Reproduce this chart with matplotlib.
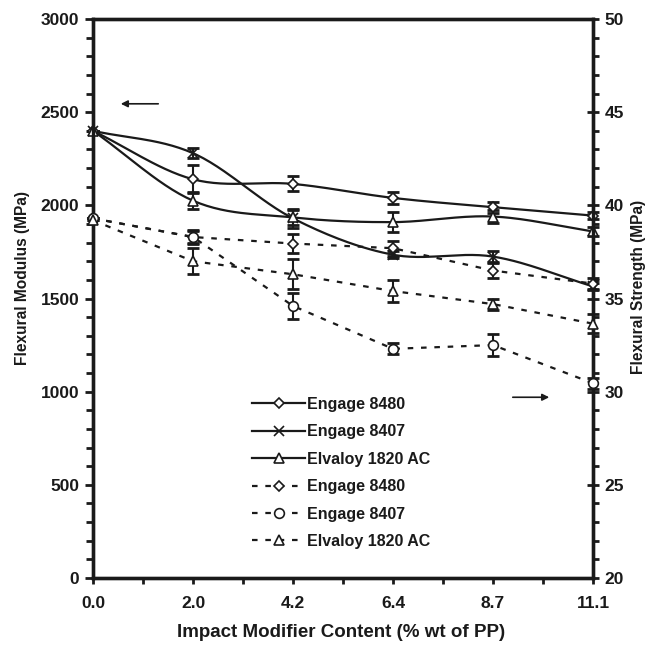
import numpy as np
import matplotlib
matplotlib.use("Agg")
from matplotlib import pyplot as plt
from matplotlib.ticker import MultipleLocator, FixedLocator

plt.rcParams['font.family'] = ['Liberation Sans', 'DejaVu Sans']
plt.rcParams['font.weight'] = 'bold'

# impact modifier content, % wt of PP (evenly spaced categories)
x_labels = ["0.0", "2.0", "4.2", "6.4", "8.7", "11.1"]

# flexural modulus, MPa (left axis, solid lines)
mod_8480 = [2400, 2140, 2115, 2040, 1990, 1945]
mod_8480_err = [0, 75, 40, 33, 30, 20]
mod_8407 = [2400, 2280, 1930, 1735, 1725, 1565]
mod_8407_err = [0, 27, 50, 20, 30, 20]
mod_1820 = [2400, 2025, 1935, 1910, 1940, 1860]
mod_1820_err = [0, 45, 40, 55, 35, 25]

# flexural strength, MPa (right axis, dashed lines)
str_8480 = [39.3, 38.3, 37.95, 37.7, 36.5, 35.8]
str_8480_err = [0, 0.4, 0.5, 0.4, 0.4, 0.3]
str_8407 = [39.3, 38.3, 34.6, 32.3, 32.5, 30.45]
str_8407_err = [0, 0.3, 0.7, 0.3, 0.6, 0.3]
str_1820 = [39.2, 37.0, 36.3, 35.4, 34.7, 33.65]
str_1820_err = [0, 0.7, 0.8, 0.6, 0.3, 0.5]

names = ["Engage 8480", "Engage 8407", "Elvaloy 1820 AC"]
markers = ["D", "x", "^"]
str_markers = ["D", "o", "^"]


def smooth(xs, ys, n=30):
    # Catmull-Rom spline through the points, like a spreadsheet "smoothed line"
    xs = np.asarray(xs, float)
    ys = np.asarray(ys, float)
    px = np.concatenate([[2 * xs[0] - xs[1]], xs, [2 * xs[-1] - xs[-2]]])
    py = np.concatenate([[2 * ys[0] - ys[1]], ys, [2 * ys[-1] - ys[-2]]])
    outx, outy = [], []
    for i in range(1, len(px) - 2):
        t = np.linspace(0, 1, n)
        for p, out in ((px, outx), (py, outy)):
            p0, p1, p2, p3 = p[i - 1], p[i], p[i + 1], p[i + 2]
            out.extend(0.5 * ((2 * p1) + (-p0 + p2) * t
                              + (2 * p0 - 5 * p1 + 4 * p2 - p3) * t ** 2
                              + (-p0 + 3 * p1 - 3 * p2 + p3) * t ** 3))
    return np.array(outx), np.array(outy)


fig = plt.figure(figsize=(6.51, 6.45), dpi=100)
ax = fig.add_axes([0.1429, 0.1039, 0.768, 0.8666])
ax2 = ax.twinx()
x = np.arange(len(x_labels))
ink = "#1a1a1a"

mods = [(mod_8480, mod_8480_err), (mod_8407, mod_8407_err), (mod_1820, mod_1820_err)]
strs = [(str_8480, str_8480_err), (str_8407, str_8407_err), (str_1820, str_1820_err)]

handles = []
for (vals, err), name, mk in zip(mods, names, markers):
    ax.errorbar(x, vals, yerr=err, fmt='none', ecolor=ink, elinewidth=1.5,
                capsize=4, capthick=2, clip_on=False, zorder=3)
    sx, sy = smooth(x, vals)
    ax.plot(sx, sy, color=ink, lw=1.6, zorder=3, clip_on=False)
    ax.plot(x, vals, ls='none', marker=mk, ms=7 if mk != 'D' else 5.5, mfc='white',
            mec=ink, mew=1.2, zorder=4, clip_on=False)
    h, = ax.plot([], [], color=ink, lw=1.6, marker=mk, ms=7 if mk != 'D' else 5.5,
                 mfc='white', mec=ink, mew=1.2)
    handles.append((h, name))

for (vals, err), name, mk in zip(strs, names, str_markers):
    ax2.errorbar(x, vals, yerr=err, fmt='none', ecolor=ink, elinewidth=1.5,
                 capsize=4, capthick=2, clip_on=False, zorder=3)
    ax2.plot(x, vals, color=ink, lw=1.6, ls=(0, (2.5, 3.5)), zorder=3, clip_on=False)
    ax2.plot(x, vals, ls='none', marker=mk, ms=7 if mk != 'D' else 5.5, mfc='white',
             mec=ink, mew=1.2, zorder=4, clip_on=False)
    h, = ax2.plot([], [], color=ink, lw=1.6, ls=(0, (2.5, 3.5)), marker=mk,
                  ms=7 if mk != 'D' else 5.5, mfc='white', mec=ink, mew=1.2)
    handles.append((h, name))

ax.set_xlim(0, len(x_labels) - 1)
ax.set_ylim(0, 3000)
ax2.set_ylim(20, 50)

ax.set_xticks(x)
ax.set_xticklabels(x_labels)
ax.xaxis.set_minor_locator(FixedLocator(x[:-1] + 0.5))
ax.yaxis.set_major_locator(MultipleLocator(500))
ax.yaxis.set_minor_locator(MultipleLocator(100))
ax2.yaxis.set_major_locator(MultipleLocator(5))
ax2.yaxis.set_minor_locator(MultipleLocator(1))

ax.tick_params(axis='x', which='both', direction='out', length=4, width=2,
               colors=ink, labelsize=12.5, pad=9)
ax.tick_params(axis='y', which='major', direction='out', length=6, width=2,
               colors=ink, labelsize=12.5, pad=4)
ax.tick_params(axis='y', which='minor', direction='out', length=5, width=2, colors=ink)
ax2.tick_params(axis='y', which='major', direction='inout', length=9, width=2,
                colors=ink, labelsize=12.5, pad=4)
ax2.tick_params(axis='y', which='minor', direction='out', length=4, width=2, colors=ink)
for a in (ax, ax2):
    for s in a.spines.values():
        s.set_linewidth(2.4)
        s.set_color(ink)
    for lab in a.get_xticklabels() + a.get_yticklabels():
        lab.set_fontweight('bold')

ax.set_xlabel("Impact Modifier Content (% wt of PP)", fontsize=13.5, fontweight='bold',
              color=ink)
ax.set_ylabel("Flexural Modulus (MPa)", fontsize=11.2, fontweight='bold', color=ink)
ax2.set_ylabel("Flexural Strength (MPa)", fontsize=11.2, fontweight='bold', color=ink)
ax.xaxis.set_label_coords(0.496, -0.083)
ax.yaxis.set_label_coords(-0.127, 0.537)
ax2.yaxis.set_label_coords(1.077, 0.52)

# arrows pointing each group of curves at its axis
ax.annotate("", xy=(0.25, 2545), xytext=(0.68, 2545),
            arrowprops=dict(arrowstyle='-|>', color=ink, lw=1.2, mutation_scale=10))
ax.annotate("", xy=(4.59, 970), xytext=(4.17, 970),
            arrowprops=dict(arrowstyle='-|>', color=ink, lw=1.2, mutation_scale=10))

leg = ax.legend([h for h, _ in handles], [n for _, n in handles],
                loc='upper left', bbox_to_anchor=(0.29, 0.35), frameon=False,
                handlelength=3.3, handletextpad=0.1, labelspacing=0.78,
                prop={'weight': 'bold', 'size': 11.5})
for t in leg.get_texts():
    t.set_color(ink)

fig.savefig("out.png", dpi=100)
